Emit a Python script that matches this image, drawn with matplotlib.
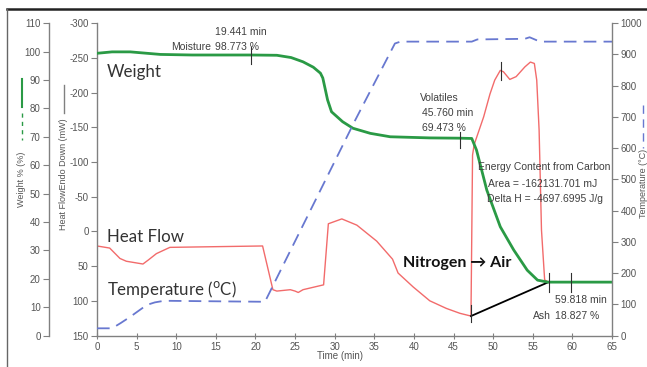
import matplotlib
matplotlib.use("Agg")
import matplotlib.pyplot as plt
from matplotlib.lines import Line2D

plt.rcParams['axes.unicode_minus'] = False

# ---------------- data ----------------
weight_t = [0, 1.9, 4.2, 8, 12, 19.4, 22.7, 24.5, 26, 27.3, 28.2, 28.5, 29.1, 29.6, 31.0, 32.3,
            34.5, 37, 42, 45.8, 47.3, 47.9, 49.2, 50.9, 52.6, 54.3, 55.6, 56.9, 58, 65]
weight_v = [99.4, 99.9, 99.9, 99.0, 98.8, 98.8, 98.7, 97.9, 96.4, 94.5, 92.4, 90.7, 83.0, 78.8, 75.3, 73.0,
            71.2, 70.0, 69.6, 69.5, 69.4, 65.3, 51.2, 38.3, 30.1, 23.0, 19.5, 18.8, 18.8, 18.8]

hf_t = [0, 1.6, 2.9, 3.7, 5.8, 6.5, 7.5, 9.2, 15, 20.9, 22.2, 22.7, 24.4, 25.0, 25.4, 26.0, 28.6,
        29.2, 30.9, 32.8, 35.3, 37.3, 38.0, 39.9, 42, 44.1, 45.8, 47.2, 47.4, 47.6, 47.9, 48.8, 49.6,
        50.2, 50.9, 51.3, 52.1, 52.9, 54.0, 54.7, 55.2, 55.5, 55.8, 56.1, 56.5, 57.0, 59.9]
hf_v = [21, 24, 39, 43, 47, 41, 32, 23, 22, 21, 84, 86, 84, 86, 88, 84, 77,
        -11, -18, -9, 14, 40, 60, 80, 100, 111, 118, 122, -110, -125, -135, -165, -198,
        -218, -232, -230, -219, -223, -237, -244, -242, -218, -146, -2, 70, 73, 73]

temp_t = [0, 1.9, 3, 4.2, 5.3, 6.3, 7.3, 8.2, 9.2, 13, 17, 21.2, 32.6, 37.6, 38.3, 47.3, 48.0,
          54.0, 54.6, 55.9, 65]
temp_v = [23, 23, 40, 60, 80, 98, 106, 110, 111, 110, 109, 108, 690, 935, 941, 941, 948,
          950, 955, 941, 941]

baseline_t = [47.2, 57.0]
baseline_hf = [122, 73]

x_ticks = list(range(0, 66, 5))
w_ticks = list(range(0, 111, 10))
hf_ticks = list(range(-300, 151, 50))
t_ticks = list(range(0, 1001, 100))

# ---------------- style ----------------
W, H = 647, 367
NARROW = ['Liberation Sans Narrow', 'Liberation Sans', 'DejaVu Sans']
BIG = ['Lato', 'Open Sans', 'DejaVu Sans']
GREEN = '#2a9a45'
RED = '#f26b6b'
BLUE = '#6878d0'
GRAY = '#808080'
TXT = '#404040'


def P(x, y):
    return x / W, 1 - y / H


fig = plt.figure(figsize=(W / 100, H / 100), dpi=100)
ax = fig.add_axes([97 / W, (H - 335.5) / H, 515 / W, 312.3 / H])
axw = ax.twinx()
axt = ax.twinx()

# heat flow axis (main, left spine at plot edge)
ax.set_xlim(0, 65)
ax.set_ylim(150, -300)
ax.set_xticks(x_ticks)
ax.set_yticks(hf_ticks)

# weight axis, spine moved left
axw.set_ylim(0, 110)
axw.set_yticks(w_ticks)
axw.yaxis.set_ticks_position('left')
axw.yaxis.set_label_position('left')
axw.spines['left'].set_position(('axes', -48 / 515))

# temperature axis right
axt.set_ylim(0, 1000)
axt.set_yticks(t_ticks)

for a in (ax, axw, axt):
    for s in a.spines.values():
        s.set_visible(False)
    a.tick_params(colors=GRAY, labelcolor='#555555', labelsize=7, length=4, width=0.8)
    for lab in a.get_xticklabels() + a.get_yticklabels():
        lab.set_family(NARROW)
for a, s in ((ax, 'left'), (ax, 'bottom'), (axw, 'left'), (axt, 'right')):
    a.spines[s].set_visible(True)
    a.spines[s].set_color(GRAY)
    a.spines[s].set_linewidth(1.0)
ax.tick_params(axis='x', direction='inout', length=5, pad=2)
ax.tick_params(axis='y', direction='out', length=4, pad=2)
axw.tick_params(axis='y', direction='out', length=4, pad=2)
axt.tick_params(axis='y', direction='out', length=4, pad=2)

# ---------------- series ----------------
axt.plot(temp_t, temp_v, color=BLUE, lw=1.3, dashes=(7, 4))
ax.plot(hf_t, hf_v, color=RED, lw=1.0)
ax.plot(baseline_t, baseline_hf, color='black', lw=1.3)
axw.plot(weight_t, weight_v, color=GREEN, lw=2.0)

# annotation tick marks
axw.plot([19.441, 19.441], [95.8, 101.7], color='#303030', lw=0.8)
axw.plot([45.76, 45.76], [66.0, 71.8], color='#303030', lw=0.8)
axw.plot([57.0, 57.0], [15.3, 22.0], color='#303030', lw=0.8)
axw.plot([59.818, 59.818], [15.3, 22.0], color='#303030', lw=0.8)
ax.plot([50.95, 50.95], [-244.5, -218], color='#303030', lw=0.8)
ax.plot([47.2, 47.2], [106, 130], color='#303030', lw=0.8)

# ---------------- texts ----------------
small = dict(family=NARROW, fontsize=7.5, color=TXT, va='center')
fig.text(*P(215, 32), "19.441 min", ha='left', **small)
fig.text(*P(171, 47), "Moisture", ha='left', **small)
fig.text(*P(215, 47), "98.773 %", ha='left', **small)
fig.text(*P(420, 98), "Volatiles", ha='left', **small)
fig.text(*P(422, 113), "45.760 min", ha='left', **small)
fig.text(*P(422, 128), "69.473 %", ha='left', **small)
fig.text(*P(544, 167), "Energy Content from Carbon", ha='center', **small)
fig.text(*P(543, 184), "Area = -162131.701 mJ", ha='center', **small)
fig.text(*P(545, 199), "Delta H = -4697.6995 J/g", ha='center', **small)
fig.text(*P(555, 300), "59.818 min", ha='left', **small)
fig.text(*P(533, 316), "Ash", ha='left', **small)
fig.text(*P(555, 316), "18.827 %", ha='left', **small)

big = dict(family=BIG, fontsize=12.2, color='#333333', va='center', ha='left')
fig.text(*P(107, 72), "Weight", **big)
fig.text(*P(107, 237), "Heat Flow", **big)
fig.text(*P(107, 290), "Temperature ($^{\\mathrm{o}}$C)", **big)
fig.text(*P(403, 263), "Nitrogen \u2192 Air", fontweight='bold', family=BIG, fontsize=11.5,
         color='#111111', va='center', ha='left')

axlab = dict(family=NARROW, fontsize=6.5, color='#555555', va='center', ha='center', rotation=90)
fig.text(*P(22, 179), "Weight % (%)", **axlab)
fig.text(*P(64, 174), "Heat FlowEndo Down (mW)", **axlab)
fig.text(*P(643, 183), "Temperature (\u00b0C)", **axlab)
fig.text(*P(340, 356), "Time (min)", family=NARROW, fontsize=7, color='#555555',
         va='center', ha='center')

# legend glyphs next to axis titles
def fl(x0, y0, x1, y1, **kw):
    (a, b), (c, d) = P(x0, y0), P(x1, y1)
    fig.add_artist(Line2D([a, c], [b, d], transform=fig.transFigure, **kw))

fl(22, 79, 22, 107, color=GREEN, lw=1.5)
fl(22, 113, 22, 140, color=GREEN, lw=1.0, dashes=(3, 3))
fl(64, 85, 64, 113, color=GRAY, lw=1.0)
fl(643, 105, 643, 148, color=BLUE, lw=1.0, dashes=(6, 4))

# figure frame (top and left)
fl(7, 8.5, 647, 8.5, color='#222222', lw=1.8)
fl(7, 8.5, 7, 367, color='#666666', lw=1.0)

fig.savefig("out.png", dpi=100)
